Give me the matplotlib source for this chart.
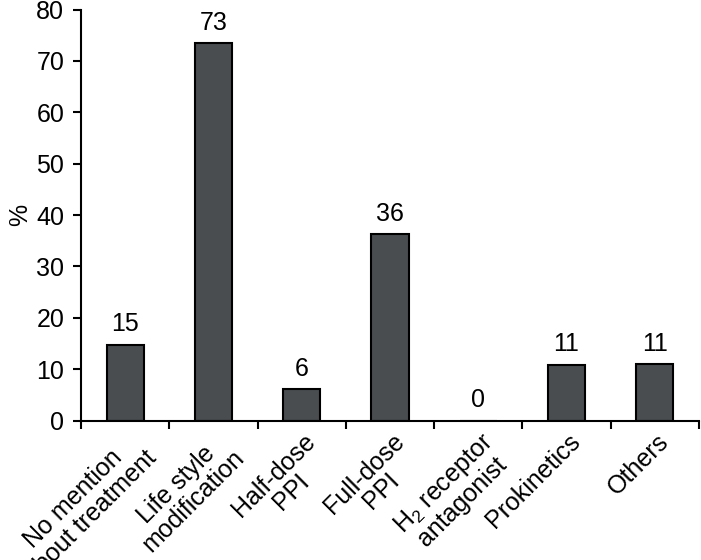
import matplotlib
matplotlib.use("Agg")
import matplotlib.pyplot as plt
import numpy as np

plt.rcParams["font.family"] = ["Liberation Sans", "DejaVu Sans"]
plt.rcParams["mathtext.fontset"] = "custom"
plt.rcParams["mathtext.rm"] = "Liberation Sans"
plt.rcParams["mathtext.default"] = "regular"

CATEGORIES = ["No mention\nabout treatment", "Life style\nmodification", "Half-dose\nPPI",
              "Full-dose\nPPI", "H$_2$ receptor\nantagonist", "Prokinetics", "Others"]
VALUES = [14.8, 73.4, 6.1, 36.3, 0.0, 10.9, 11.0]
LABELS = ["15", "73", "6", "36", "0", "11", "11"]

FS = 18


def main():
    fig = plt.figure(figsize=(7.01, 5.6), dpi=100)
    ax = fig.add_axes([0.1156, 0.2488, 0.8814, 0.7342])
    x = np.arange(len(CATEGORIES))
    ax.bar(x, VALUES, 0.42, color="#4a4d50", edgecolor="black", linewidth=1.5, zorder=2)
    for xi, v, lab in zip(x, VALUES, LABELS):
        ax.text(xi, v + 1.6, lab, ha="center", va="bottom", fontsize=FS)

    ax.set_xlim(-0.5, len(CATEGORIES) - 0.5)
    ax.set_ylim(0, 80)
    ax.set_yticks(np.arange(0, 81, 10))
    ax.set_xticks(np.arange(len(CATEGORIES) + 1) - 0.5)
    ax.set_xticklabels([])
    # category names hang off the bar centres (ticks only at the boundaries)
    ax.set_xticks(x + 0.02, minor=True)
    ax.set_xticklabels(CATEGORIES, minor=True, rotation=45, ha="right",
                       rotation_mode="anchor", multialignment="center", fontsize=FS,
                       linespacing=1.0)
    ax.tick_params(axis="x", which="minor", length=0, pad=6)
    ax.tick_params(axis="both", which="major", direction="out", length=6, width=1.5,
                   labelsize=FS)
    ax.tick_params(axis="y", pad=6)
    ax.set_ylabel("%", fontsize=FS, labelpad=3)
    for s in ["top", "right"]:
        ax.spines[s].set_visible(False)
    for s in ["left", "bottom"]:
        ax.spines[s].set_linewidth(1.5)
    fig.savefig("out.png", dpi=100)


if __name__ == "__main__":
    main()
